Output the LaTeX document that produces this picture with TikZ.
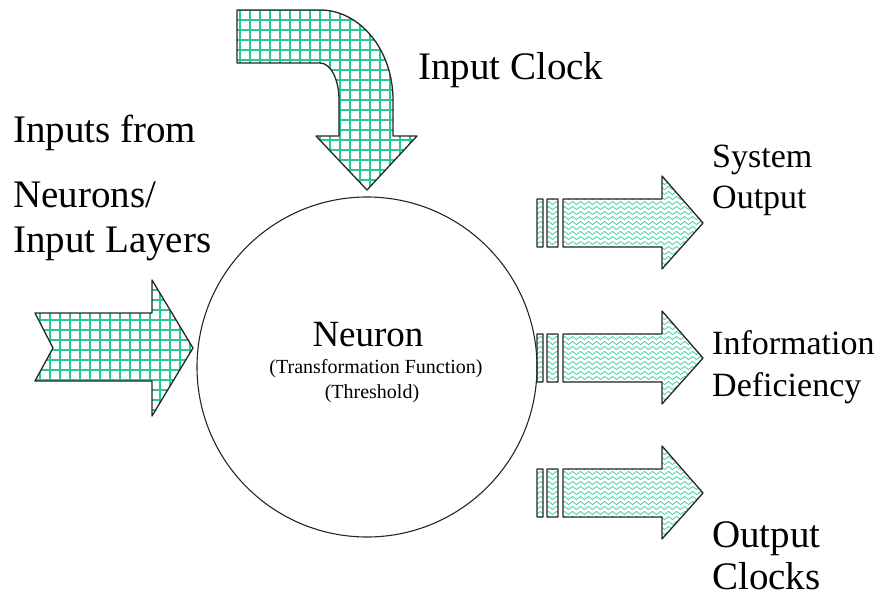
\documentclass[tikz,border=0pt]{standalone}
\usepackage{fontspec}
\setmainfont{Liberation Serif}
\usetikzlibrary{decorations.pathmorphing}
\definecolor{meshgreen}{RGB}{40,200,150}
\tikzset{
	outline/.style={draw=black!85,line width=1.3pt,line join=round},
	mesh/.style={meshgreen,line width=1.2pt},
	wave/.style={meshgreen!85,line width=0.8pt,decorate,decoration={snake,segment length=8pt,amplitude=1.5pt}},
	bigtext/.style={font=\fontsize{39}{45}\selectfont,anchor=base west,inner sep=0pt},
	sidetext/.style={font=\fontsize{34}{41}\selectfont,anchor=base west,inner sep=0pt},
}
\begin{document}
\begin{tikzpicture}[x=1pt,y=-1pt]
		\useasboundingbox (0,0) rectangle (882,599);
		\def\clockarrow{(237,10) -- (320,10) .. controls (360,10) and (393,50) .. (393,100) -- (393,136) -- (417,136) -- (367,190) -- (316,136) -- (339,136) -- (339,100) .. controls (339,80) and (331,63) .. (320,63) -- (237,63) -- cycle}
		\def\inputarrow{(35,313) -- (152,313) -- (152,280) -- (193,348) -- (152,416) -- (152,381) -- (35,381) -- (53,348) -- cycle}
		% input arrows, grid filled
		\begin{scope}
			\clip \clockarrow;
			\draw[mesh,step=10pt] (230,200) grid (420,0);
		\end{scope}
		\draw[outline] \clockarrow;
		\begin{scope}
			\clip \inputarrow;
			\draw[mesh,step=10pt] (30,420) grid (200,270);
		\end{scope}
		\draw[outline] \inputarrow;
		% the neuron
		\draw[black!85,line width=1.1pt] (367,367) circle[radius=170];
		% output arrows, wave filled
		\foreach \yc in {223,358,493}{
			\begin{scope}
				\clip (537,\yc-24) rectangle (543,\yc+24) (547,\yc-24) rectangle (558,\yc+24)
					(563,\yc-24) -- (662,\yc-24) -- (662,\yc-47) -- (703,\yc) -- (662,\yc+46) -- (662,\yc+24) -- (563,\yc+24) -- cycle;
				\foreach \w in {-45,-40,...,45}
					\draw[wave] (530,\yc+\w) -- (710,\yc+\w);
			\end{scope}
			\draw[outline] (537,\yc-24) rectangle (543,\yc+24) (547,\yc-24) rectangle (558,\yc+24)
				(563,\yc-24) -- (662,\yc-24) -- (662,\yc-47) -- (703,\yc) -- (662,\yc+46) -- (662,\yc+24) -- (563,\yc+24) -- cycle;
		}
		% labels
		\node[bigtext] (clocklabel) at (418,80) {Input Clock};
		\node[bigtext] (inputsfrom) at (13,142) {Inputs from};
		\node[bigtext] (neurons) at (13,207) {Neurons/};
		\node[bigtext] (layers) at (13,252) {Input Layers};
		\node[font=\fontsize{37}{40}\selectfont,anchor=base,inner sep=0pt] (neuron) at (368,346) {Neuron};
		\node[font=\fontsize{20}{24}\selectfont,anchor=base,inner sep=0pt] (transf) at (376,373) {(Transformation Function)};
		\node[font=\fontsize{20}{24}\selectfont,anchor=base,inner sep=0pt] (thresh) at (372,398) {(Threshold)};
		\node[sidetext] (system) at (712,167) {System};
		\node[sidetext] (sysout) at (712,208) {Output};
		\node[sidetext] (info) at (712,354) {Information};
		\node[sidetext] (deficiency) at (712,396) {Deficiency};
		\node[bigtext] (outclk) at (712,547) {Output};
		\node[bigtext] (clocks) at (712,589) {Clocks};
	\end{tikzpicture}
\end{document}
